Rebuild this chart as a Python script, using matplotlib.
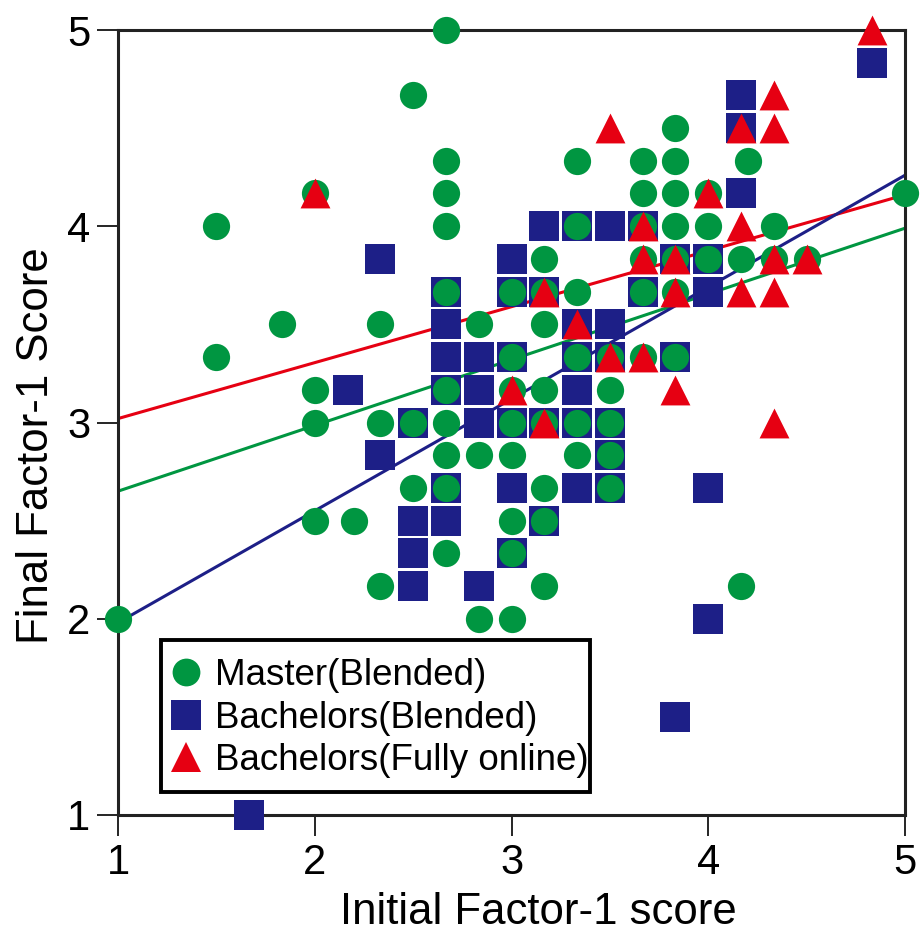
import matplotlib
matplotlib.use("Agg")
import matplotlib.pyplot as plt
from matplotlib.lines import Line2D
from matplotlib.patches import Rectangle
import numpy as np

plt.rcParams['font.family'] = ['Liberation Sans', 'DejaVu Sans']

# ---- data (scores) ----
master_x = [2.667,
            2.5,
            3.833,
            2.667, 3.333, 3.667, 3.833, 4.2,
            2.0, 2.667, 3.667, 3.833, 4.0, 5.0,
            1.5, 2.667, 3.333, 3.667, 3.833, 4.0, 4.333,
            3.167, 3.667, 3.833, 4.0, 4.167, 4.333, 4.5,
            2.667, 3.0, 3.167, 3.333, 3.667, 3.833,
            1.833, 2.333, 2.833, 3.167,
            1.5, 3.0, 3.333, 3.5, 3.667, 3.833,
            2.0, 2.667, 3.0, 3.167, 3.5,
            2.0, 2.333, 2.5, 2.667, 3.0, 3.167, 3.333, 3.5,
            2.667, 2.833, 3.0, 3.333, 3.5,
            2.5, 2.667, 3.167, 3.5,
            2.0, 2.2, 3.0, 3.167,
            2.667, 3.0,
            2.333, 3.167, 4.167,
            1.0, 2.833, 3.0]
master_y = [5.0,
            4.667,
            4.5,
            4.333, 4.333, 4.333, 4.333, 4.333,
            4.167, 4.167, 4.167, 4.167, 4.167, 4.167,
            4.0, 4.0, 4.0, 4.0, 4.0, 4.0, 4.0,
            3.833, 3.833, 3.833, 3.833, 3.833, 3.833, 3.833,
            3.667, 3.667, 3.667, 3.667, 3.667, 3.667,
            3.5, 3.5, 3.5, 3.5,
            3.333, 3.333, 3.333, 3.333, 3.333, 3.333,
            3.167, 3.167, 3.167, 3.167, 3.167,
            3.0, 3.0, 3.0, 3.0, 3.0, 3.0, 3.0, 3.0,
            2.833, 2.833, 2.833, 2.833, 2.833,
            2.667, 2.667, 2.667, 2.667,
            2.5, 2.5, 2.5, 2.5,
            2.333, 2.333,
            2.167, 2.167, 2.167,
            2.0, 2.0, 2.0]

bach_blended_x = [4.833,
                  4.167,
                  4.167,
                  4.167,
                  3.167, 3.333, 3.5, 3.667,
                  2.333, 3.0, 3.833, 4.0,
                  2.667, 3.0, 3.167, 3.667, 4.0,
                  2.667, 3.333, 3.5,
                  2.667, 2.833, 3.0, 3.333, 3.5, 3.833,
                  2.167, 2.667, 2.833, 3.333,
                  2.5, 2.833, 3.0, 3.167, 3.333, 3.5,
                  2.333, 3.5,
                  2.667, 3.0, 3.333, 3.5, 4.0,
                  2.5, 2.667, 3.167,
                  2.5, 3.0,
                  2.5, 2.833,
                  4.0,
                  3.833,
                  1.667]
bach_blended_y = [4.833,
                  4.667,
                  4.5,
                  4.167,
                  4.0, 4.0, 4.0, 4.0,
                  3.833, 3.833, 3.833, 3.833,
                  3.667, 3.667, 3.667, 3.667, 3.667,
                  3.5, 3.5, 3.5,
                  3.333, 3.333, 3.333, 3.333, 3.333, 3.333,
                  3.167, 3.167, 3.167, 3.167,
                  3.0, 3.0, 3.0, 3.0, 3.0, 3.0,
                  2.833, 2.833,
                  2.667, 2.667, 2.667, 2.667, 2.667,
                  2.5, 2.5, 2.5,
                  2.333, 2.333,
                  2.167, 2.167,
                  2.0,
                  1.5,
                  1.0]

bach_online_x = [4.833,
                 4.333,
                 3.5, 4.167, 4.333,
                 2.0, 4.0,
                 3.667, 4.167,
                 3.667, 3.833, 4.333, 4.5,
                 3.167, 3.833, 4.167, 4.333,
                 3.333,
                 3.5, 3.667,
                 3.0, 3.833,
                 3.167, 4.333]
bach_online_y = [5.0,
                 4.667,
                 4.5, 4.5, 4.5,
                 4.167, 4.167,
                 4.0, 4.0,
                 3.833, 3.833, 3.833, 3.833,
                 3.667, 3.667, 3.667, 3.667,
                 3.5,
                 3.333, 3.333,
                 3.167, 3.167,
                 3.0, 3.0]

# fitted regression lines: value at x=1 and x=5
fit_x = [1.0, 5.0]
fit_master = [2.65, 3.99]
fit_bach_blended = [1.98, 4.26]
fit_bach_online = [3.02, 4.16]

labels = ["Master(Blended)", "Bachelors(Blended)", "Bachelors(Fully online)"]
ticks = [1, 2, 3, 4, 5]

GREEN = "#009641"
BLUE = "#1d1f87"
RED = "#e60012"

fig = plt.figure(figsize=(9.23, 9.33), dpi=100)
ax = fig.add_axes([118/923, 1 - 815/933, (905-118)/923, (815-30)/933])

ax.plot(fit_x, fit_bach_online, color=RED, lw=2.2, zorder=1)
ax.plot(fit_x, fit_master, color=GREEN, lw=2.2, zorder=1)
ax.plot(fit_x, fit_bach_blended, color=BLUE, lw=2.2, zorder=1)

ax.scatter(bach_blended_x, bach_blended_y, marker='s', s=21.6**2, c=BLUE,
           linewidths=0, zorder=3, clip_on=False)
ax.scatter(master_x, master_y, marker='o', s=19.6**2, c=GREEN,
           linewidths=0, zorder=4, clip_on=False)
ax.scatter(bach_online_x, bach_online_y, marker='^', s=21.5**2, c=RED,
           linewidths=0, zorder=5, clip_on=False)

ax.set_xlim(1, 5)
ax.set_ylim(1, 5)
ax.set_xticks(ticks)
ax.set_yticks(ticks)
ax.tick_params(axis='both', direction='out', length=15, width=1.2,
               labelsize=30, pad=5, color='black')
for sp in ax.spines.values():
    sp.set_linewidth(2.2)
    sp.set_color('#222222')
    sp.set_zorder(2)

ax.set_xlabel("Initial Factor-1 score", fontsize=31.5)
ax.set_ylabel("Final Factor-1 Score", fontsize=31.5)
ax.xaxis.set_label_coords(0.534, -0.098)
ax.yaxis.set_label_coords(-0.078, 0.47)

# legend box
ax.add_patch(Rectangle((0.0546, 0.0293), 0.545, 0.1936, transform=ax.transAxes,
                       facecolor='white', edgecolor='black', linewidth=2.8,
                       zorder=9, clip_on=False))

handles = [
    Line2D([], [], marker='o', linestyle='none', color=GREEN, markersize=20, markeredgewidth=0),
    Line2D([], [], marker='s', linestyle='none', color=BLUE, markersize=21, markeredgewidth=0),
    Line2D([], [], marker='^', linestyle='none', color=RED, markersize=22, markeredgewidth=0),
]
leg = ax.legend(handles, labels, loc='lower left',
                bbox_to_anchor=((161-118)/787, (815-792)/785),
                borderaxespad=0, fontsize=26.5, frameon=False,
                handlelength=0.6, handletextpad=0.5, labelspacing=0.2,
                borderpad=0.38)
leg.set_zorder(10)

fig.savefig("out.png", dpi=100)
